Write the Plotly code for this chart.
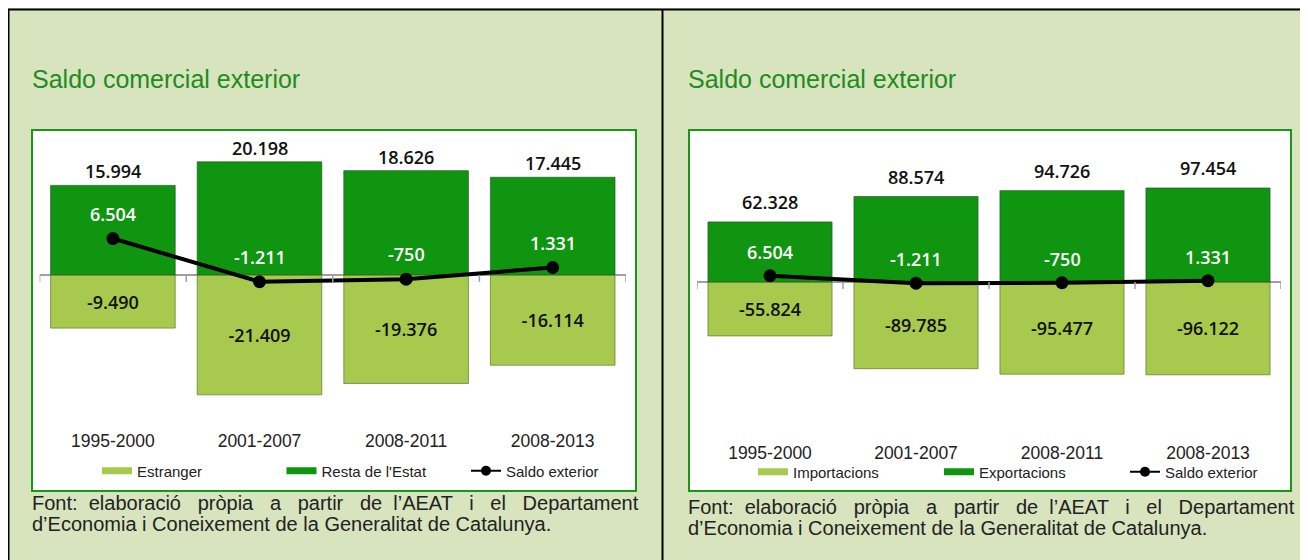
import plotly.graph_objects as go

W, H = 1308, 560
OFF = 8  # the page places the figure 8 px from the top-left corner

# ---------------- data ----------------
categories = ["1995-2000", "2001-2007", "2008-2011", "2008-2013"]

# Left chart (milions d'euros)
resta_estat = [15994, 20198, 18626, 17445]
estranger = [-9490, -21409, -19376, -16114]
saldo_left = [6504, -1211, -750, 1331]

# Right chart
exportacions = [62328, 88574, 94726, 97454]
importacions = [-55824, -89785, -95477, -96122]
saldo_right = [6504, -1211, -750, 1331]

title_text = "Saldo comercial exterior"
footer_words1 = ["Font:", "elaboració", "pròpia", "a", "partir", "de", "l\u2019AEAT", "i", "el", "Departament"]
footer_line2 = "d\u2019Economia i Coneixement de la Generalitat de Catalunya."

# ---------------- style ----------------
BG = "#D8E4BD"
DARK = "#109510"
LIGHT = "#A7C94D"
TITLE_C = "#1E8C1E"
SANS = "Liberation Sans, Arial, sans-serif"
NUM = "Open Sans, DejaVu Sans, sans-serif"


def fx(px):
    return (px - OFF) / W


def fy(py):
    return 1 - (py - OFF) / H


def fmt(v):
    return f"{v:,}".replace(",", ".")


# justified first footer line: widen the gaps with non-breaking spaces
gap_sizes = [2, 3, 3, 3, 3, 2, 3, 3, 3]
footer_line1 = footer_words1[0]
for g, w in zip(gap_sizes, footer_words1[1:]):
    footer_line1 += " " + "\u00a0" * (g - 1) + w

fig = go.Figure()

panels = [
    dict(xa="x", ya="y", legend="legend", neg=estranger, pos=resta_estat, saldo=saldo_left,
         neg_name="Estranger", pos_name="Resta de l'Estat", tot_shift=14, sal_shift=25),
    dict(xa="x2", ya="y2", legend="legend2", neg=importacions, pos=exportacions, saldo=saldo_right,
         neg_name="Importacions", pos_name="Exportacions", tot_shift=20, sal_shift=24),
]

annotations = []
shapes = []

for p in panels:
    fig.add_trace(go.Bar(
        x=categories, y=p["neg"], name=p["neg_name"], xaxis=p["xa"], yaxis=p["ya"],
        marker=dict(color=LIGHT, line=dict(color="rgba(95,120,45,0.7)", width=1)),
        width=0.85, texttemplate="%{y:,}", textposition="inside", insidetextanchor="middle",
        textangle=0, constraintext="none",
        textfont=dict(family=NUM, size=18, color="#111", weight=600),
        showlegend=False, legendgroup=p["neg_name"] + p["xa"], cliponaxis=False,
    ))
    fig.add_trace(go.Bar(
        x=categories, y=p["pos"], name=p["pos_name"], xaxis=p["xa"], yaxis=p["ya"],
        marker=dict(color=DARK, line=dict(color="rgba(40,90,40,0.7)", width=1)),
        width=0.85, showlegend=False, legendgroup=p["pos_name"] + p["xa"], cliponaxis=False,
    ))
    fig.add_trace(go.Scatter(
        x=categories, y=p["saldo"], name="Saldo exterior", xaxis=p["xa"], yaxis=p["ya"],
        mode="lines+markers", line=dict(color="black", width=4),
        marker=dict(color="black", size=13), legend=p["legend"], cliponaxis=False,
        showlegend=False, legendgroup="saldo" + p["xa"],
    ))
    # legend entries (same groups as the traces)
    fig.add_trace(go.Scatter(
        x=[None], y=[None], name=p["neg_name"], xaxis=p["xa"], yaxis=p["ya"], mode="lines",
        line=dict(color=LIGHT, width=7), legend=p["legend"], legendgroup=p["neg_name"] + p["xa"],
    ))
    fig.add_trace(go.Scatter(
        x=[None], y=[None], name=p["pos_name"], xaxis=p["xa"], yaxis=p["ya"], mode="lines",
        line=dict(color=DARK, width=7), legend=p["legend"], legendgroup=p["pos_name"] + p["xa"],
    ))
    fig.add_trace(go.Scatter(
        x=[None], y=[None], name="Saldo exterior", xaxis=p["xa"], yaxis=p["ya"],
        mode="lines+markers", line=dict(color="black", width=2), marker=dict(color="black", size=10),
        legend=p["legend"], legendgroup="saldo" + p["xa"],
    ))
    for c, v in zip(categories, p["pos"]):
        annotations.append(dict(
            x=c, y=v, xref=p["xa"], yref=p["ya"], text=fmt(v), showarrow=False,
            yanchor="middle", yshift=p["tot_shift"],
            font=dict(family=NUM, size=18, color="#111", weight=600),
        ))
    for c, v in zip(categories, p["saldo"]):
        annotations.append(dict(
            x=c, y=v, xref=p["xa"], yref=p["ya"], text=fmt(v), showarrow=False,
            yanchor="middle", yshift=p["sal_shift"],
            font=dict(family=NUM, size=18, color="white", weight=600),
        ))
    for b in [-0.5, 0.5, 1.5, 2.5, 3.5]:
        shapes.append(dict(
            type="line", xref=p["xa"], yref=p["ya"], x0=b, x1=b, ysizemode="pixel",
            yanchor=0, y0=0, y1=-7, line=dict(color="#A0A0A0", width=1.5), layer="above",
        ))

deco = [
    dict(type="line", xref="paper", yref="paper", x0=fx(7), x1=1, y0=fy(9.5), y1=fy(9.5),
         line=dict(color="black", width=2), layer="below"),
    dict(type="line", xref="paper", yref="paper", x0=fx(8.5), x1=fx(8.5), y0=0, y1=fy(9),
         line=dict(color="black", width=2), layer="below"),
    dict(type="line", xref="paper", yref="paper", x0=fx(662.5), x1=fx(662.5), y0=0, y1=fy(9),
         line=dict(color="black", width=2), layer="below"),
    dict(type="rect", xref="paper", yref="paper", x0=fx(32), x1=fx(636), y0=fy(491), y1=fy(130),
         fillcolor="white", line=dict(color="#1A961A", width=2), layer="below"),
    dict(type="rect", xref="paper", yref="paper", x0=fx(689), x1=fx(1291), y0=fy(491), y1=fy(130),
         fillcolor="white", line=dict(color="#1A961A", width=2), layer="below"),
]
shapes = deco + shapes

for x0, fy1, fy2 in [(30, 503, 524), (686, 507, 528)]:
    annotations.append(dict(
        x=fx(x0), y=fy(79), xref="paper", yref="paper", text=title_text, showarrow=False,
        xanchor="left", yanchor="middle", font=dict(family=SANS, size=25, color=TITLE_C),
    ))
    annotations.append(dict(
        x=fx(x0), y=fy(fy1), xref="paper", yref="paper", text=footer_line1, showarrow=False,
        xanchor="left", yanchor="middle", font=dict(family=SANS, size=20, color="#222"),
    ))
    annotations.append(dict(
        x=fx(x0), y=fy(fy2), xref="paper", yref="paper", text=footer_line2, showarrow=False,
        xanchor="left", yanchor="middle", font=dict(family=SANS, size=20, color="#222"),
    ))

axis_common = dict(showgrid=False, ticks="", showline=False, fixedrange=True)
legend_common = dict(orientation="h", xanchor="left", yanchor="middle", bgcolor="rgba(0,0,0,0)",
                     font=dict(family=SANS, size=15, color="#222"), entrywidthmode="pixels",
                     itemclick=False, itemdoubleclick=False)

fig.update_layout(
    width=W, height=H, margin=dict(l=0, r=0, t=0, b=0, autoexpand=False),
    paper_bgcolor=BG, plot_bgcolor="rgba(0,0,0,0)",
    barmode="overlay", separators=",.",
    xaxis=dict(domain=[fx(39.6), fx(626)], range=[-0.5, 3.5], anchor="y",
               tickfont=dict(family=SANS, size=17.5, color="#222"), **axis_common),
    yaxis=dict(domain=[fy(428), fy(140)], range=[-27330, 24100], anchor="x",
               showticklabels=False, zeroline=True, zerolinecolor="#A0A0A0", zerolinewidth=1.5,
               **axis_common),
    xaxis2=dict(domain=[fx(697), fx(1281)], range=[-0.5, 3.5], anchor="y2",
                tickfont=dict(family=SANS, size=17.5, color="#222"), **axis_common),
    yaxis2=dict(domain=[fy(440), fy(140)], range=[-163700, 147200], anchor="x2",
                showticklabels=False, zeroline=True, zerolinecolor="#A0A0A0", zerolinewidth=1.5,
                **axis_common),
    legend=dict(x=fx(97), y=fy(471), entrywidth=139.5, **legend_common),
    legend2=dict(x=fx(753), y=fy(472), entrywidth=141, **legend_common),
    shapes=shapes, annotations=annotations,
)

fig.write_html("out.html")
